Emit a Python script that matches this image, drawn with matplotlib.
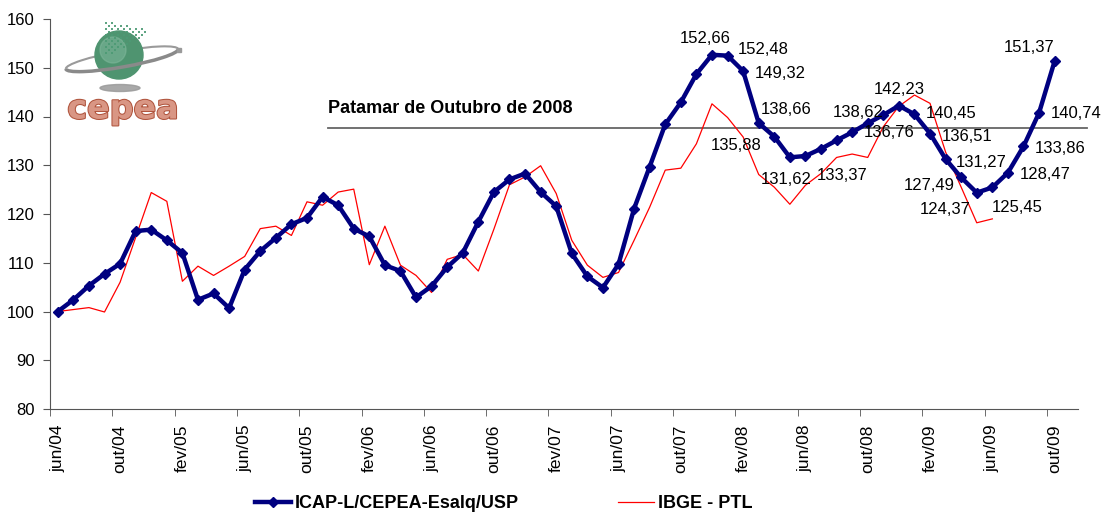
import numpy as np
import matplotlib
matplotlib.use("Agg")
import matplotlib.pyplot as plt
import matplotlib.patheffects as pe
from matplotlib.patches import Circle, Ellipse, Arc

plt.rcParams['font.family'] = ['Liberation Sans', 'DejaVu Sans']

# months jun/04 .. nov/09
meses = ['jan', 'fev', 'mar', 'abr', 'mai', 'jun', 'jul', 'ago', 'set', 'out', 'nov', 'dez']
categorias = [f"{meses[(5 + k) % 12]}/{(4 + (5 + k) // 12):02d}" for k in range(66)]

icap = [100.0, 102.4, 105.3, 107.7, 109.8, 116.5, 116.8, 114.6, 112.0, 102.4,
        103.7, 100.7, 108.6, 112.4, 115.1, 117.9, 119.2, 123.5, 121.8, 117.0,
        115.4, 109.5, 108.3, 102.9, 105.2, 109.1, 112.0, 118.4, 124.5, 127.1,
        128.3, 124.5, 121.6, 111.9, 107.2, 104.9, 109.7, 121.1, 129.7, 138.4,
        142.9, 148.7, 152.66, 152.48, 149.32, 138.66, 135.88, 131.62, 131.9, 133.37,
        135.1, 136.76, 138.62, 140.3, 142.23, 140.45, 136.51, 131.27, 127.49, 124.37,
        125.45, 128.47, 133.86, 140.74, 151.37]

ibge = [100.0, 100.4, 100.8, 99.9, 106.0, 115.2, 124.4, 122.6, 106.2, 109.3,
        107.4, 109.3, 111.3, 117.0, 117.5, 115.6, 122.5, 121.8, 124.5, 125.1,
        109.6, 117.5, 109.5, 107.4, 103.9, 110.7, 111.7, 108.3, 116.9, 126.0,
        127.6, 129.9, 124.2, 114.6, 109.5, 107.0, 108.0, 114.6, 121.4, 129.0,
        129.4, 134.4, 142.6, 139.8, 135.8, 128.1, 125.5, 122.0, 125.9, 128.3,
        131.6, 132.3, 131.6, 137.9, 142.1, 144.4, 142.7, 132.7, 125.5, 118.2,
        119.0]

# labelled points: index -> offset of label (pixels)
rotulos = {42: (-7, 16), 43: (36, 6), 44: (37, -2), 45: (27, 14), 46: (-38, -9),
           47: (-4, -22), 49: (21, -27), 51: (37, 0), 52: (-10, 11), 54: (0, 16),
           55: (37, 1), 56: (37, -3), 57: (36, -3), 58: (-32, -8), 59: (-32, -17),
           60: (25, -20), 61: (37, -2), 62: (37, -2), 63: (37, -1), 64: (-26, 14)}

patamar = 137.7

fig = plt.figure(figsize=(11.02, 5.16), dpi=100)
ax = fig.add_axes([50 / 1102, 1 - 409 / 516, 1028 / 1102, 390 / 516])

x_icap = np.arange(len(icap))
x_ibge = np.arange(len(ibge))
l1, = ax.plot(x_icap, icap, color='#000080', lw=3.2, marker='D', ms=5,
              label='ICAP-L/CEPEA-Esalq/USP', zorder=3)
l2, = ax.plot(x_ibge, ibge, color='#ff0000', lw=0.9, label='IBGE - PTL', zorder=2)

for i, (dx, dy) in rotulos.items():
    ax.annotate(f"{icap[i]:.2f}".replace('.', ','), (i, icap[i]), xytext=(dx, dy),
                textcoords='offset pixels', ha='center', va='center', fontsize=12,
                color='black', zorder=4)

# reference line
ax.plot([17.34, 66.06], [patamar, patamar], color='#666666', lw=1.3,
        clip_on=False, zorder=1)
ax.text(17.34, 141.7, 'Patamar de Outubro de 2008', fontsize=13, fontweight='bold',
        ha='left', va='center')

ax.set_xlim(-0.5, 65.5)
ax.set_ylim(80, 160)
ax.set_yticks(np.arange(80, 161, 10))
ax.set_xticks(np.arange(0, 66, 4))
ax.set_xticklabels([categorias[k] for k in range(0, 66, 4)], rotation=90, fontsize=12.5)
ax.set_xticks(np.arange(-0.5, 66, 4), minor=True)
ax.tick_params(axis='x', which='major', length=0, pad=11)
ax.tick_params(axis='x', which='minor', length=5, direction='out', color='#555555')
ax.tick_params(axis='y', labelsize=12, length=5, direction='out', color='#555555', pad=6)
for s in ['top', 'right']:
    ax.spines[s].set_visible(False)
for s in ['left', 'bottom']:
    ax.spines[s].set_color('#555555')

fig.legend(handles=[l1, l2], loc='lower center', bbox_to_anchor=(0.457, -0.024),
           ncol=2, frameon=False, handlelength=2.0, handletextpad=0.2,
           columnspacing=5.5, prop={'weight': 'bold', 'size': 13})

# logo
lg = fig.add_axes([60 / 1102, 1 - 125 / 516, 125 / 1102, 120 / 516])
lg.set_xlim(60, 185)
lg.set_ylim(125, 5)
lg.axis('off')
lg.add_patch(Ellipse((120, 88), 40, 7, color='#9a9a9a', alpha=0.85))
lg.add_patch(Arc((122, 59), 114, 16, angle=-10, theta1=180, theta2=360,
                 color='#9a9a9a', lw=1.5))
lg.add_patch(Circle((119, 55), 24, color='#4f9470'))
lg.add_patch(Circle((113, 50), 13, color='#80b89c', alpha=0.55))
lg.add_patch(Arc((122, 59), 114, 16, angle=-10, theta1=0, theta2=180,
                 color='#8a8a8a', lw=2.5))
lg.plot([178.5], [49.5], 's', ms=2.5, color='#9a9a9a')
gx, gy = np.mgrid[106:154:3, 20:54:3]
fan = ((gy >= 21 + (gx - 108) * 0.23) & (gy <= 52 - (gx - 116) * 0.6)
       & ((gx // 3 + gy // 3) % 2 == 0))
lg.scatter(gx[fan], gy[fan], marker='s', s=3, color='#4d9a75', alpha=0.9, lw=0)
lg.text(123, 109, 'cepea', fontsize=24, fontweight='bold', color='#d99684',
        ha='center', va='center', family='DejaVu Sans',
        path_effects=[pe.withStroke(linewidth=1.5, foreground='#b0553e')])

fig.savefig('out.png', dpi=100)
